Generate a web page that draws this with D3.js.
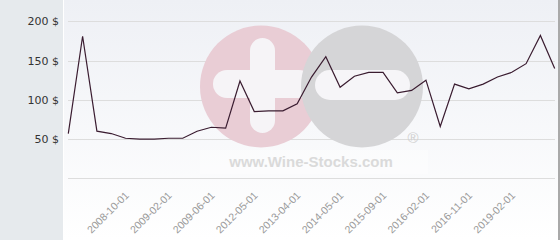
<!DOCTYPE html>
<html>
<head>
<meta charset="utf-8">
<script src="https://cdn.jsdelivr.net/npm/d3@7"></script>
<style>
  body { margin: 0; background: #fff; }
  svg { display: block; }
</style>
</head>
<body>
<div id="chart"></div>
<script>
// price per point (category axis, 35 points)
var prices = [57, 181, 60, 57, 51, 50, 50, 51, 51, 60, 65, 64, 124, 85, 86, 86, 95, 129,
  155, 116, 130, 135, 135, 109, 112, 125, 66, 120, 114, 120, 129, 135, 146, 182, 140];
var tickIndex = [4, 7, 10, 13, 16, 19, 22, 25, 28, 31];
var tickLabels = ['2008-10-01', '2009-02-01', '2009-06-01', '2012-05-01', '2013-04-01',
  '2014-05-01', '2015-09-01', '2016-02-01', '2016-11-01', '2019-02-01'];
var yTicks = [0, 50, 100, 150, 200];

var w = 560, h = 240;
var svg = d3.select('#chart').append('svg').attr('width', w).attr('height', h);

var defs = svg.append('defs');
var grad = defs.append('linearGradient').attr('id', 'bg').
  attr('x1', 0).attr('y1', 0).attr('x2', 0).attr('y2', 1);
grad.append('stop').attr('offset', '0%').attr('stop-color', '#eef0f5');
grad.append('stop').attr('offset', '100%').attr('stop-color', '#ffffff');

// left panel + plot background
svg.append('rect').attr('x', 0).attr('y', 0).attr('width', 63).attr('height', h).attr('fill', '#e6eaed');
svg.append('rect').attr('x', 64).attr('y', 0).attr('width', 494).attr('height', h).attr('fill', 'url(#bg)');
svg.append('rect').attr('x', 558).attr('y', 0).attr('width', 2).attr('height', h).attr('fill', '#a9a9a9');

var x = d3.scalePoint().domain(d3.range(prices.length)).range([68.3, 554.7]);
var y = d3.scaleLinear().domain([0, 200]).range([178.3, 21.3]);

// grid
svg.append('g').selectAll('line').data(yTicks).enter().append('line').
  attr('x1', 68).attr('x2', 555).
  attr('y1', d => Math.round(y(d)) + 0.5).attr('y2', d => Math.round(y(d)) + 0.5).
  attr('stroke', '#dddddd').attr('stroke-width', 1);

// watermark
var wm = svg.append('g');
wm.append('rect').attr('x', 200).attr('y', 150).attr('width', 228).attr('height', 24).attr('fill', '#ffffff').attr('opacity', 0.35);
wm.append('circle').attr('cx', 261).attr('cy', 86.5).attr('r', 61).attr('fill', '#e9cdd5');
wm.append('rect').attr('x', 250).attr('y', 38).attr('width', 25).attr('height', 95).attr('rx', 12.5).attr('fill', '#f6f4f7');
wm.append('rect').attr('x', 213).attr('y', 70).attr('width', 100).attr('height', 28).attr('rx', 14).attr('fill', '#f6f4f7');
wm.append('circle').attr('cx', 362).attr('cy', 86.5).attr('r', 61).attr('fill', '#d5d5d7');
wm.append('rect').attr('x', 315).attr('y', 70).attr('width', 95).attr('height', 30).attr('rx', 15).attr('fill', '#f6f5f8');
wm.append('text').attr('x', 311).attr('y', 166.5).attr('text-anchor', 'middle').
  style('font-family', 'Liberation Sans, Arial, sans-serif').style('font-weight', 'bold').style('font-size', '15px').
  attr('fill', '#dadada').text('www.Wine-Stocks.com');
wm.append('text').attr('x', 413).attr('y', 143).attr('text-anchor', 'middle').
  style('font-family', 'Liberation Sans, Arial, sans-serif').style('font-size', '15px').
  attr('fill', '#d0d0d0').text('®');

// y labels
svg.append('g').selectAll('text').data(yTicks.filter(d => d > 0)).enter().append('text').
  attr('x', 59).attr('y', d => y(d)).attr('dy', '0.36em').attr('text-anchor', 'end').
  style('font-family', 'DejaVu Sans, sans-serif').style('font-size', '11px').attr('fill', '#333').
  text(d => d + ' $');

// x labels
svg.append('g').selectAll('text').data(tickIndex).enter().append('text').
  attr('transform', d => 'translate(' + (x(d) + 4) + ',196) rotate(-45)').
  attr('text-anchor', 'end').
  style('font-family', 'Liberation Sans, Arial, sans-serif').style('font-size', '10.5px').attr('fill', '#999').
  text((d, i) => tickLabels[i]);

// line
var line = d3.line().x((d, i) => x(i)).y(d => y(d));
svg.append('path').datum(prices).attr('d', line).
  attr('fill', 'none').attr('stroke', '#3a1c30').attr('stroke-width', 1.2).attr('stroke-linejoin', 'miter');
</script>
</body>
</html>
